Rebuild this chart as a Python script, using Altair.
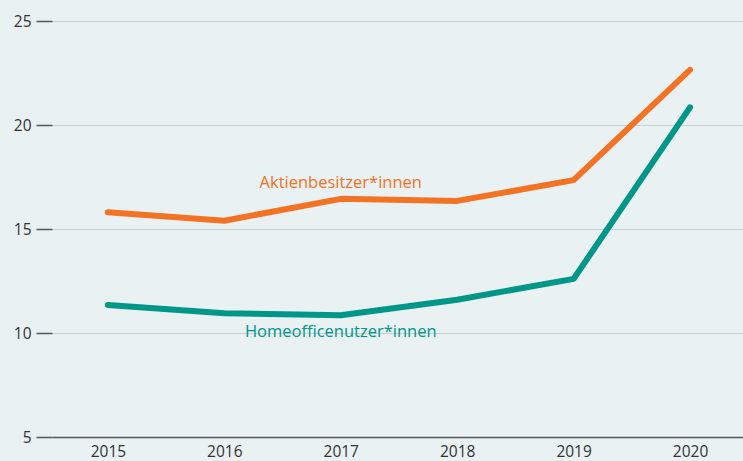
import altair as alt
import pandas as pd

years = [2015, 2016, 2017, 2018, 2019, 2020]
aktien = [15.8, 15.4, 16.45, 16.35, 17.35, 22.65]
homeoffice = [11.35, 10.95, 10.85, 11.6, 12.6, 20.85]
series_names = ["Aktienbesitzer*innen", "Homeofficenutzer*innen"]
colors = ["#F47224", "#009688"]
label_years = [2017, 2017]
label_values = [17.22, 10.05]
y_ticks = [5, 10, 15, 20, 25]
bg = "#E9F1F2"

rows = []
for n, vals in zip(series_names, [aktien, homeoffice]):
    for yr, v in zip(years, vals):
        rows.append({"year": yr, "value": v, "series": n})
df = pd.DataFrame(rows)
lab = pd.DataFrame({"year": label_years, "value": label_values, "series": series_names})

font = "Open Sans"
xscale = alt.Scale(domain=[2014.52, 2020.455], nice=False, zero=False)
yscale = alt.Scale(domain=[5, 25], nice=False, zero=False)
cscale = alt.Scale(domain=series_names, range=colors)

lines = alt.Chart(df).mark_line(strokeWidth=6, strokeCap="round", strokeJoin="round").encode(
    x=alt.X("year:Q", scale=xscale, axis=alt.Axis(
        values=years, format="d", title=None, ticks=False, grid=False,
        domainColor="#555555", domainWidth=1.5, labelFontSize=15.5, labelColor="#333333",
        labelPadding=7, labelFont=font)),
    y=alt.Y("value:Q", scale=yscale, axis=alt.Axis(
        values=y_ticks, title=None, tickSize=16, tickColor="#555555", tickWidth=1.5,
        domain=False, gridColor="#c9cfd2", gridWidth=1.2, labelFontSize=15.5,
        labelColor="#333333", labelPadding=5, labelFont=font)),
    color=alt.Color("series:N", scale=cscale, legend=None),
)

texts = alt.Chart(lab).mark_text(fontSize=16.5, font=font, align="center", baseline="middle").encode(
    x=alt.X("year:Q", scale=xscale),
    y=alt.Y("value:Q", scale=yscale),
    color=alt.Color("series:N", scale=cscale, legend=None),
    text="series:N",
)

chart = (lines + texts).properties(
    width=691, height=416,
    autosize=alt.AutoSizeParams(type="none"),
    padding={"left": 52, "top": 21, "right": 0, "bottom": 24},
    background=bg,
).configure_view(stroke=None)

chart.save("out.html", embed_options={"renderer": "svg", "actions": False})

with open("out.html", encoding="utf-8") as f:
    html = f.read()
css = ("<style>html,body{margin:0;padding:0;background:%s;overflow:hidden;}"
       ".vega-embed{display:block !important;padding:0 !important;}"
       ".vega-embed svg{display:block;}</style>" % bg)
html = html.replace("</head>", css + "</head>", 1)
with open("out.html", "w", encoding="utf-8") as f:
    f.write(html)
